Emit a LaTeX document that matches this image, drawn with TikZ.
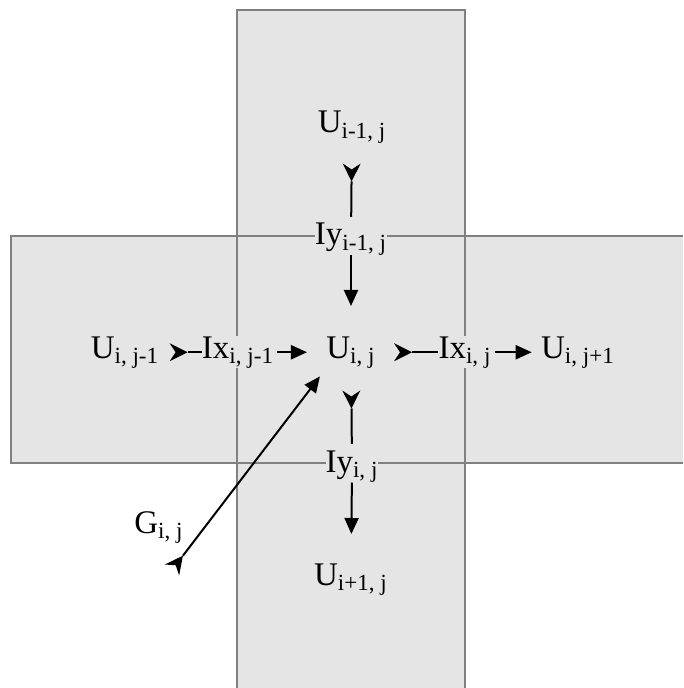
\documentclass[tikz,border=0pt]{standalone}
\usepackage{fontspec}
\setmainfont{Liberation Serif}
\usetikzlibrary{arrows.meta}

\tikzset{
  cell/.style={fill=black!10},
  celledge/.style={draw=black!50, line width=1pt},
  lbl/.style={inner sep=0pt, anchor=base, font=\fontsize{16.5}{19}\selectfont},
  fluxlbl/.style={lbl, fill=black!10},
  flow/.style={line width=1pt, -{Triangle[length=8pt,width=7pt]}},
  flowtail/.style={line width=1pt, {Stealth[reversed,length=9pt,width=9pt,inset=3pt,line width=0pt]}-},
  gflow/.style={line width=1pt, {Stealth[reversed,length=9pt,width=9pt,inset=3pt,line width=0pt]}-{Triangle[length=8pt,width=7pt]}},
}

\begin{document}
\begin{tikzpicture}[x=0.5pt,y=-0.5pt]
    \useasboundingbox (0,0) rectangle (683,688);
    % shaded cells
    \fill[cell] (237,10) rectangle (465,688);
    \fill[cell] (11,236) rectangle (683,463);
    \draw[celledge] (237,688) -- (237,10) -- (465,10) -- (465,688);
    \draw[celledge] (683,236) -- (11,236) -- (11,463) -- (683,463);
    % labels
    \node[lbl] (Uim1) at (352,133) {U\textsubscript{i-1, j}};
    \node[fluxlbl] (Iyim1) at (351,245) {Iy\textsubscript{i-1, j}};
    \node[lbl] (Uij) at (351,358) {U\textsubscript{i, j}};
    \node[lbl] (Ujm1) at (125,358) {U\textsubscript{i, j-1}};
    \node[fluxlbl] (Ixjm1) at (238,358) {Ix\textsubscript{i, j-1}};
    \node[fluxlbl] (Ixij) at (465,358) {Ix\textsubscript{i, j}};
    \node[lbl] (Ujp1) at (578,358) {U\textsubscript{i, j+1}};
    \node[fluxlbl] (Iyij) at (352,472) {Iy\textsubscript{i, j}};
    \node[lbl] (Uip1) at (351,585) {U\textsubscript{i+1, j}};
    \node[lbl] (Gij) at (159,533) {G\textsubscript{i, j}};
    \coordinate (gtail) at (172,570);
    % fluxes
    \draw[flowtail, shorten <=10pt, shorten >=3pt] (Uim1) -- (Iyim1);
    \draw[flow, shorten >=15pt] (Iyim1) -- (Uij);
    \draw[flowtail, shorten <=5pt] (Ujm1) -- (Ixjm1);
    \draw[flow, shorten <=1.5pt, shorten >=9.5pt] (Ixjm1) -- (Uij);
    \draw[flowtail, shorten <=9pt] (Uij) -- (Ixij);
    \draw[flow, shorten <=1.5pt, shorten >=4.5pt] (Ixij) -- (Ujp1);
    \draw[flowtail, shorten <=11pt, shorten >=3pt] (Uij) -- (Iyij);
    \draw[flow, shorten >=14.5pt] (Iyij) -- (Uip1);
    \draw[gflow, shorten >=5pt] (gtail) -- (Uij.south west);
\end{tikzpicture}
\end{document}
